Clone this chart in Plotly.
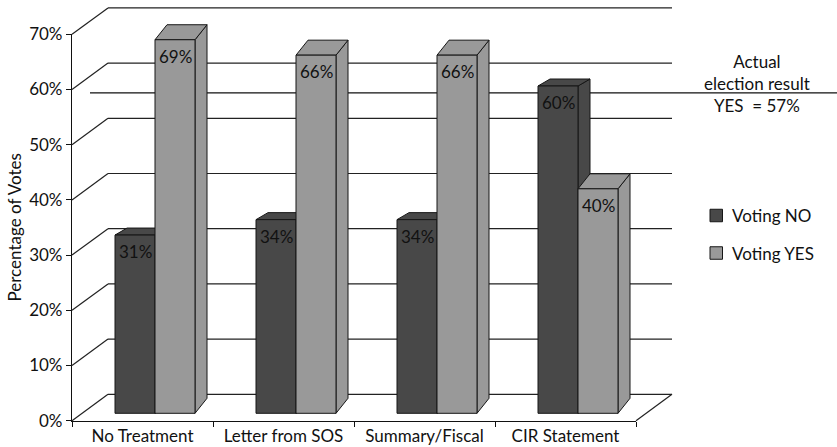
import plotly.graph_objects as go

# ---------------- data ----------------
categories = ["No Treatment", "Letter from SOS", "Summary/Fiscal", "CIR Statement"]
series_names = ["Voting NO", "Voting YES"]
voting_no = [31, 34, 34, 60]
voting_yes = [69, 66, 66, 40]
y_tick_values = [0, 10, 20, 30, 40, 50, 60, 70]
y_tick_labels = ["0%", "10%", "20%", "30%", "40%", "50%", "60%", "70%"]
election_result_yes = 57
election_note = "Actual<br>election result<br>YES  = 57%"
y_title = "Percentage of Votes"

# ---------------- style / geometry (pixels) ----------------
W, H = 837, 447
FONT = "Lato"
INK = "#111111"
SERIES_COLORS = ["#484848", "#999999"]
EDGE = "#161616"

FRONT_LEFT, FRONT_RIGHT = 72, 636        # front edge of the floor
FRONT_BOTTOM, FRONT_TOP = 420.7, 34.3    # 0% and top tick on the front plane
WALL_DX, WALL_DY = 36, 26.4              # depth of the chart box
BAR_SHIFT_X = 12.5                       # bars stand a bit behind the front plane
BAR_ZERO_Y, BAR_PX_PER_PCT = 394.4, 5.14 # vertical scale of the bar plane
BAR_FOOT_Y = 413.3                       # where the columns meet the floor
BAR_WIDTH_PX = 40
BAR_DEPTH_PX = [(12, 7), (12, 15)]       # (dx, dy) of each series' columns

n = len(categories)
px_cat = (FRONT_RIGHT - FRONT_LEFT) / n
px_pct = (FRONT_BOTTOM - FRONT_TOP) / y_tick_values[-1]

# wall / floor axes: same scale as the front plane, stretched over the whole page
x2_range = [(0 - FRONT_LEFT) / px_cat, (W - FRONT_LEFT) / px_cat]
y2_range = [(FRONT_BOTTOM - H) / px_pct, FRONT_BOTTOM / px_pct]
wdx = WALL_DX / px_cat
wdy = WALL_DY / px_pct

# bar-plane axes
x3_range = [(0 - FRONT_LEFT - BAR_SHIFT_X) / px_cat, (W - FRONT_LEFT - BAR_SHIFT_X) / px_cat]
y3_range = [(BAR_ZERO_Y - H) / BAR_PX_PER_PCT, BAR_ZERO_Y / BAR_PX_PER_PCT]
bar_base = (BAR_ZERO_Y - BAR_FOOT_Y) / BAR_PX_PER_PCT
bar_w = BAR_WIDTH_PX / px_cat


def paper_x(px):
    return px / W


def paper_y(py):
    return 1 - py / H


fig = go.Figure()

# keeps the front-plane subplot (ticks and tick labels)
fig.add_trace(go.Scatter(x=[None], y=[None], xaxis="x", yaxis="y",
                         hoverinfo="skip", showlegend=False))

# actual election result line, half way into the box
fig.add_trace(go.Scatter(
    x=[0.5 * wdx, x2_range[1]],
    y=[election_result_yes + 0.5 * wdy] * 2,
    mode="lines", line=dict(color=INK, width=1.3),
    xaxis="x2", yaxis="y2", hoverinfo="skip", showlegend=False))

fig.add_trace(go.Scatter(x=[None], y=[None], xaxis="x3", yaxis="y3",
                         hoverinfo="skip", showlegend=False))

shapes = []
wall_line = dict(color="#222222", width=1.2)

# side wall diagonals and back wall gridlines
for v in y_tick_values:
    shapes.append(dict(type="line", xref="x2", yref="y2", layer="below",
                       x0=0, y0=v, x1=wdx, y1=v + wdy, line=wall_line))
    shapes.append(dict(type="line", xref="x2", yref="y2", layer="below",
                       x0=wdx, y0=v + wdy, x1=n + wdx, y1=v + wdy, line=wall_line))
# right edge of the floor
shapes.append(dict(type="line", xref="x2", yref="y2", layer="below",
                   x0=n, y0=0, x1=n + wdx, y1=wdy, line=wall_line))

# 3-D columns
series_values = [voting_no, voting_yes]
annotations = []
for i in range(n):
    c = i + 0.5
    for s, values in enumerate(series_values):
        v = values[i]
        xl = c - bar_w + s * bar_w
        xr = xl + bar_w
        ddx = BAR_DEPTH_PX[s][0] / px_cat
        ddy = BAR_DEPTH_PX[s][1] / BAR_PX_PER_PCT
        col = SERIES_COLORS[s]
        edge = dict(color=EDGE, width=1)
        # right side face
        shapes.append(dict(
            type="path", xref="x3", yref="y3", layer="above",
            path=f"M{xr},{bar_base} L{xr + ddx},{bar_base + ddy} L{xr + ddx},{v + ddy} L{xr},{v} Z",
            fillcolor=col, line=edge))
        # top face
        shapes.append(dict(
            type="path", xref="x3", yref="y3", layer="above",
            path=f"M{xl},{v} L{xl + ddx},{v + ddy} L{xr + ddx},{v + ddy} L{xr},{v} Z",
            fillcolor=col, line=edge))
        # front face
        shapes.append(dict(
            type="rect", xref="x3", yref="y3", layer="above",
            x0=xl, x1=xr, y0=bar_base, y1=v, fillcolor=col, line=edge))
        annotations.append(dict(
            xref="x3", yref="y3", x=(xl + xr) / 2, y=v, yanchor="top", yshift=-4,
            text=f"{v}%", showarrow=False,
            font=dict(family=FONT, size=17, color=INK)))

# legend
LEGEND_SWATCH_X = 710
LEGEND_TEXT_X = 730
LEGEND_ROWS_Y = [215.5, 253]
SW = 12.5
for name, col, yc in zip(series_names, SERIES_COLORS, LEGEND_ROWS_Y):
    shapes.append(dict(type="rect", xref="paper", yref="paper",
                       x0=paper_x(LEGEND_SWATCH_X), x1=paper_x(LEGEND_SWATCH_X + SW),
                       y0=paper_y(yc + SW / 2), y1=paper_y(yc - SW / 2),
                       fillcolor=col, line=dict(color=EDGE, width=1)))
    annotations.append(dict(xref="paper", yref="paper", x=paper_x(LEGEND_TEXT_X),
                            y=paper_y(yc), xanchor="left", yanchor="middle",
                            text=name, showarrow=False,
                            font=dict(family=FONT, size=17, color=INK)))

# election note
annotations.append(dict(xref="paper", yref="paper", x=paper_x(757), y=paper_y(84),
                        xanchor="center", yanchor="middle", align="center",
                        text=election_note, showarrow=False,
                        font=dict(family=FONT, size=17, color=INK)))

# y-axis title
annotations.append(dict(xref="paper", yref="paper", x=paper_x(14),
                        y=paper_y((FRONT_BOTTOM + FRONT_TOP) / 2),
                        xanchor="center", yanchor="middle", textangle=-90,
                        text=y_title, showarrow=False,
                        font=dict(family=FONT, size=17, color=INK)))

hidden = dict(visible=False, showgrid=False, zeroline=False, fixedrange=True,
              automargin=False)

fig.update_layout(
    width=W, height=H,
    margin=dict(l=0, r=0, t=0, b=0, autoexpand=False),
    paper_bgcolor="white", plot_bgcolor="rgba(0,0,0,0)",
    showlegend=False,
    font=dict(family=FONT, size=17, color=INK),
    xaxis=dict(domain=[paper_x(FRONT_LEFT), paper_x(FRONT_RIGHT)], range=[0, n],
               tickmode="array", tickvals=[i + 0.5 for i in range(n)], ticktext=categories,
               ticks="", showline=True, linecolor=INK, linewidth=1.2,
               showgrid=False, zeroline=False, fixedrange=True, anchor="y",
               automargin=False,
               minor=dict(tickmode="array", tickvals=list(range(n + 1)), ticks="outside",
                          ticklen=5, tickcolor=INK, tickwidth=1.2, showgrid=False),
               tickfont=dict(family=FONT, size=17, color=INK)),
    yaxis=dict(domain=[paper_y(FRONT_BOTTOM), paper_y(FRONT_TOP)],
               range=[0, y_tick_values[-1]],
               tickmode="array", tickvals=y_tick_values, ticktext=y_tick_labels,
               ticks="outside", ticklen=5, tickcolor=INK, tickwidth=1.2,
               showline=True, linecolor=INK, linewidth=1.2,
               showgrid=False, zeroline=False, fixedrange=True, anchor="x",
               automargin=False,
               tickfont=dict(family=FONT, size=17, color=INK)),
    xaxis2=dict(domain=[0, 1], range=x2_range, anchor="y2", **hidden),
    yaxis2=dict(domain=[0, 1], range=y2_range, anchor="x2", **hidden),
    xaxis3=dict(domain=[0, 1], range=x3_range, anchor="y3", **hidden),
    yaxis3=dict(domain=[0, 1], range=y3_range, anchor="x3", **hidden),
    shapes=shapes,
    annotations=annotations,
)

fig.write_html("out.html")
